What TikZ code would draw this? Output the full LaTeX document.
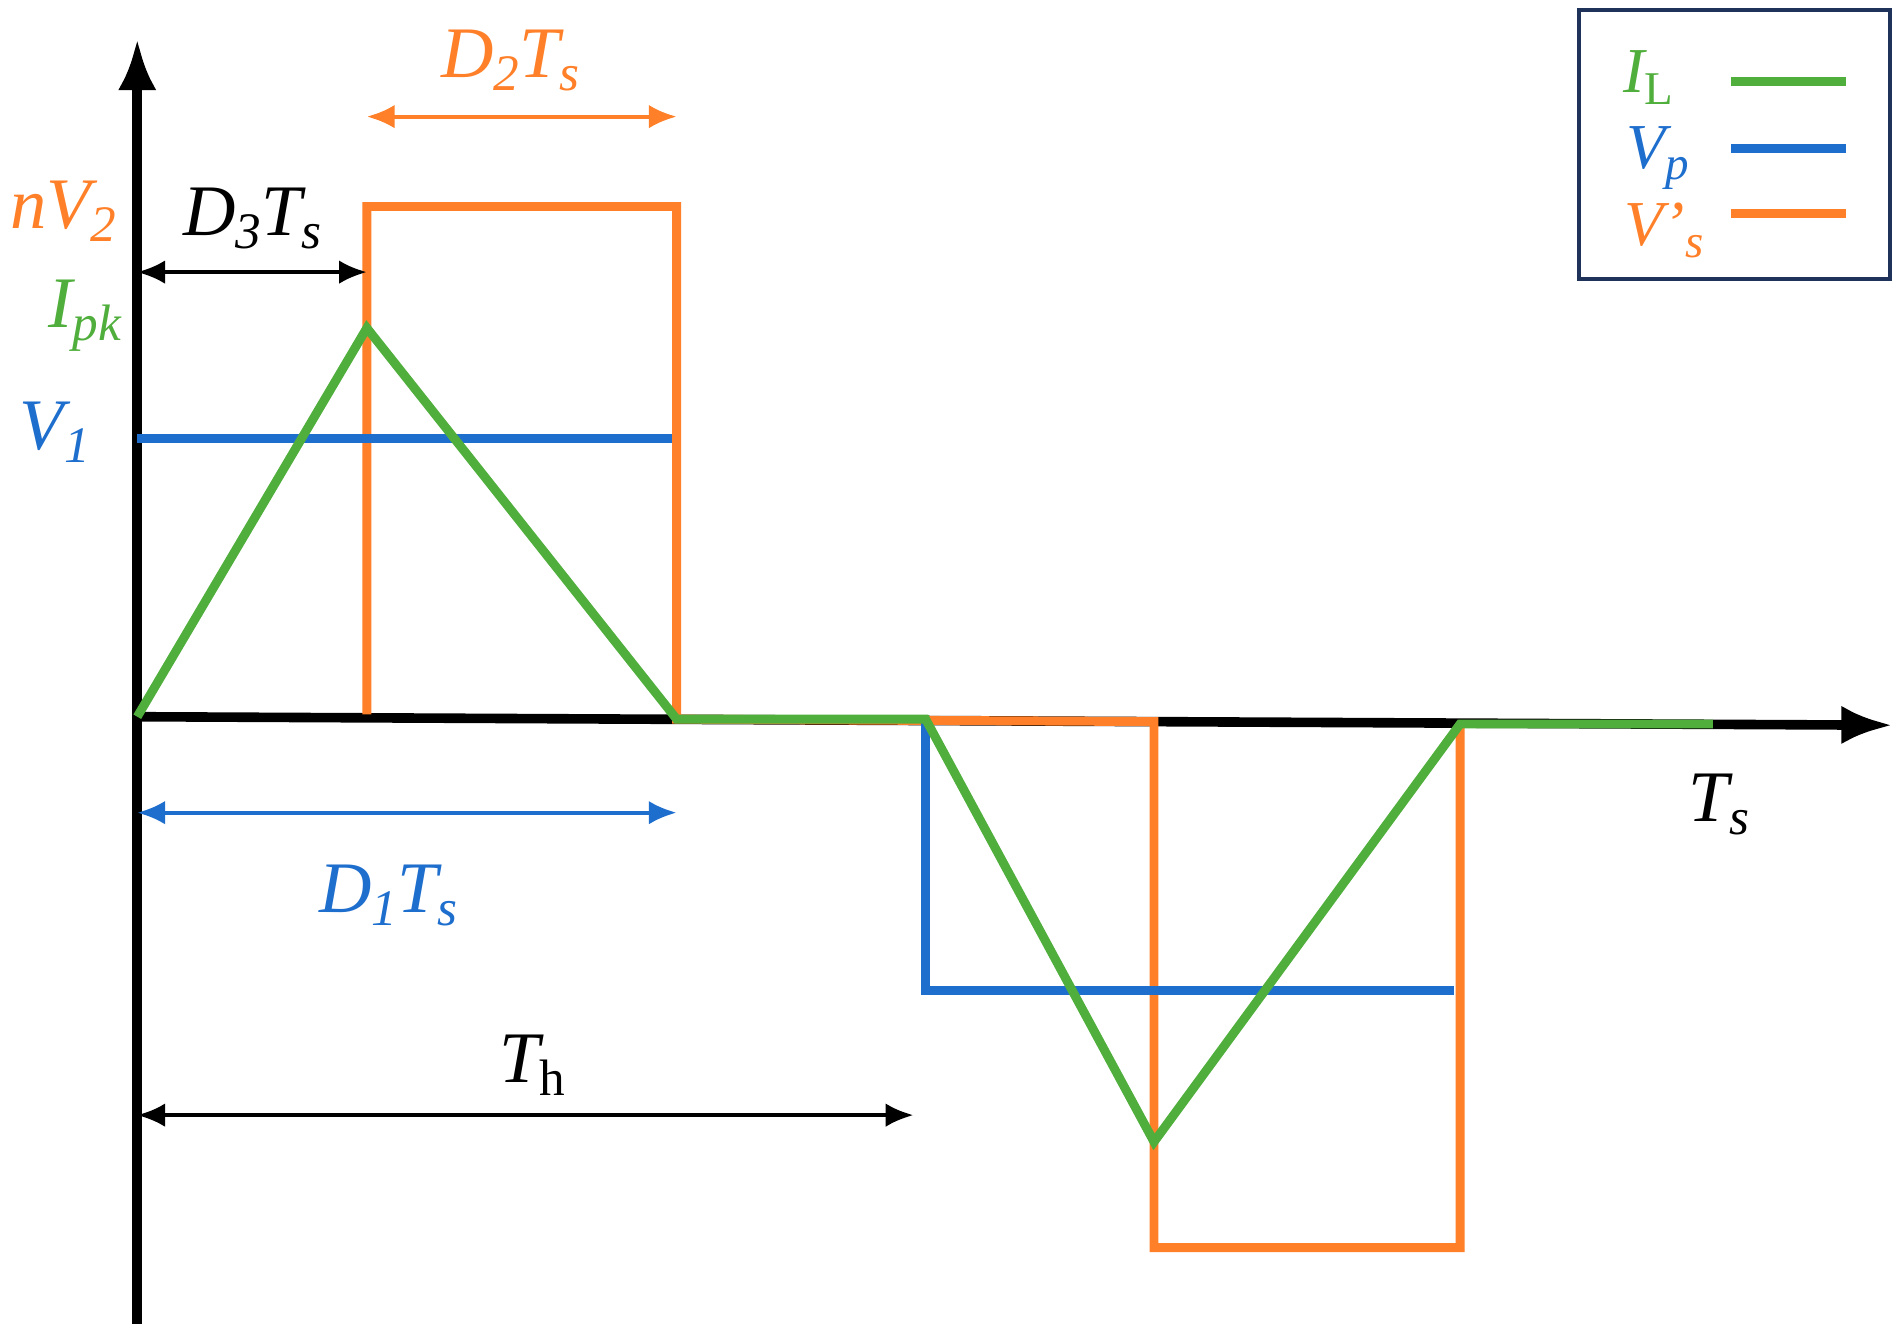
\documentclass[tikz,border=0pt]{standalone}
\usepackage{fontspec}
\setmainfont{Liberation Serif}
\usetikzlibrary{arrows.meta}
\begin{document}
\newcommand{\sbs}[1]{\raisebox{-0.4ex}{\fontsize{24}{26}\selectfont\textit{#1}}}
\newcommand{\sbsl}[1]{\raisebox{-0.4ex}{\fontsize{22}{24}\selectfont\textit{#1}}}
\begin{tikzpicture}[x=0.02cm,y=-0.02cm,
  ln/.style={line width=4.2pt},
  dim/.style={line width=1.8pt,{Latex[length=13pt,width=11pt]}-{Latex[length=13pt,width=11pt]}},
  lb/.style={font=\fontsize{34}{36}\selectfont\itshape,inner sep=0pt},
  lg/.style={font=\fontsize{30}{32}\selectfont\itshape,inner sep=0pt}]
\definecolor{gr}{RGB}{80,175,60}
\definecolor{bl}{RGB}{30,110,205}
\definecolor{orr}{RGB}{255,128,40}
\definecolor{nv}{RGB}{30,50,90}
\useasboundingbox (0,0) rectangle (1560,1100);
% axes
\coordinate (o) at (113,590);
\coordinate (yt) at (113,32);
\coordinate (yb) at (113,1090);
\coordinate (xe) at (1558,597);
\draw[line width=4.5pt,-{Latex[length=24pt,width=18pt]}] (yb) -- (yt);
\draw[line width=4.5pt,-{Latex[length=24pt,width=18pt]}] (o) -- (xe);
% orange
\draw[ln,orr] (302,588) -- (302,170) -- (557,170) -- (557,592) -- (950,594) -- (950,1027) -- (1202,1027) -- (1202,597);
% blue
\draw[ln,bl] (113,361) -- (553,361);
\draw[ln,bl] (762,594) -- (762,815) -- (1197,815);
% green
\draw[ln,gr] (113,590) -- (302,270) -- (557,592) -- (762,592) -- (950,940) -- (1202,596) -- (1410,596);
% dimension arrows
\coordinate (d3a) at (113,224); \coordinate (d3b) at (302,224);
\draw[dim] (d3a) -- (d3b);
\coordinate (d2a) at (302,96); \coordinate (d2b) at (557,96);
\draw[dim,orr] (d2a) -- (d2b);
\coordinate (d1a) at (113,669); \coordinate (d1b) at (557,669);
\draw[dim,bl] (d1a) -- (d1b);
\coordinate (tha) at (113,918); \coordinate (thb) at (752,918);
\draw[dim] (tha) -- (thb);
% labels
\node[lb] (l3) at (208,180) {D\sbs{3}T\sbs{s}};
\node[lb,orr] (l2) at (420,50) {D\sbs{2}T\sbs{s}};
\node[lb,bl] (l1) at (320,737) {D\sbs{1}T\sbs{s}};
\node[lb] (lh) at (438,877) {T\sbs{\upshape h}};
\node[lb] (lts) at (1415,662) {T\sbs{s}};
\node[lb,orr] (lnv) at (52,174) {nV\sbs{2}};
\node[lb,gr] (lip) at (70,260) {I\sbs{pk}};
\node[lb,bl] (lv1) at (45,356) {V\sbs{1}};
% legend
\draw[line width=1.8pt,nv] (1300,8) rectangle (1556,230);
\node[lg,gr] (gi) at (1357,64) {I\sbsl{\upshape L}};
\node[lg,bl] (gv) at (1365,130) {V\sbsl{p}};
\node[lg,orr] (gs) at (1370,190) {V'\sbsl{s}};
\coordinate (g1a) at (1425,67); \coordinate (g1b) at (1520,67);
\coordinate (g2a) at (1425,122); \coordinate (g2b) at (1520,122);
\coordinate (g3a) at (1425,176); \coordinate (g3b) at (1520,176);
\draw[ln,gr] (g1a) -- (g1b);
\draw[ln,bl] (g2a) -- (g2b);
\draw[ln,orr] (g3a) -- (g3b);
\end{tikzpicture}
\end{document}
